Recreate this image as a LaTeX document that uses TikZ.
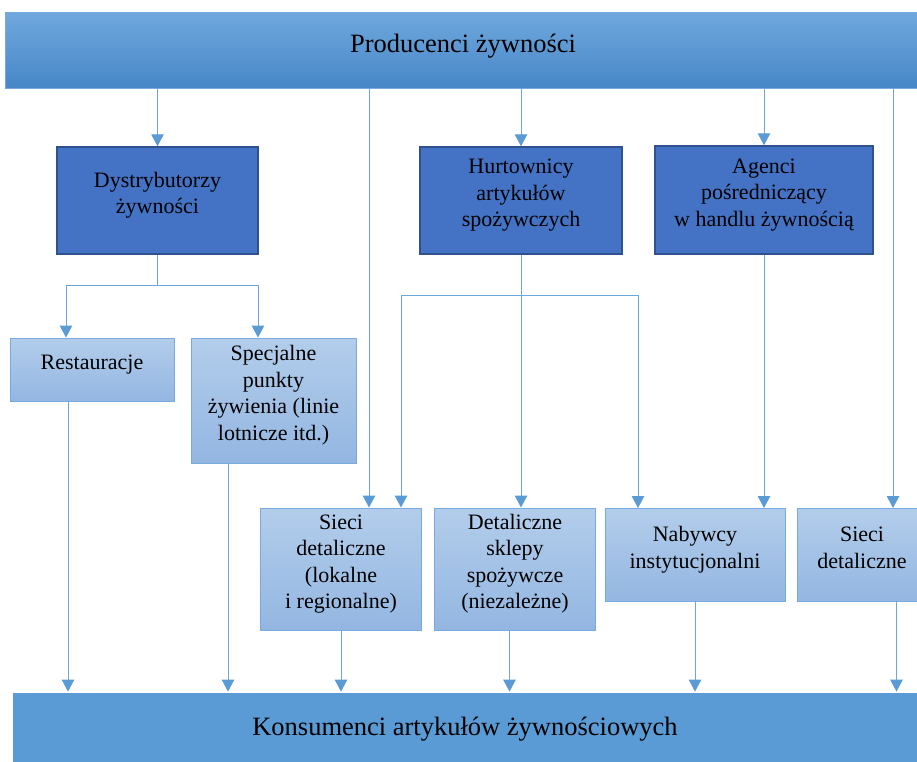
\documentclass[tikz,border=0pt]{standalone}
\usepackage{fontspec}
\setmainfont{Liberation Serif}
\usepackage{xcolor}
\usetikzlibrary{arrows.meta, positioning}

\definecolor{barTop}{HTML}{70A8DE}
\definecolor{barBot}{HTML}{4787C7}
\definecolor{barFlat}{HTML}{5B9BD5}
\definecolor{darkFill}{HTML}{4472C4}
\definecolor{darkEdge}{HTML}{2F528F}
\definecolor{lightTop}{HTML}{B3CDEB}
\definecolor{lightBot}{HTML}{93B6E1}
\definecolor{lightEdge}{HTML}{78AADF}
\definecolor{linkCol}{HTML}{6AA5DC}
\definecolor{tipCol}{HTML}{5B9BD5}

\tikzstyle{bar} = [rectangle, inner sep=0pt, text height=18pt, text depth=14pt, font=\fontsize{26.5}{30}\selectfont]
\tikzstyle{producer} = [bar, top color=barTop, bottom color=barBot, draw=lightEdge, line width=0.8pt]
\tikzstyle{consumer} = [bar, fill=barFlat, draw=white, line width=0.8pt]
\tikzstyle{box} = [rectangle, inner sep=2pt, align=center, text depth=15pt, font=\fontsize{22}{26.5}\selectfont]
\tikzstyle{middleman} = [box, fill=darkFill, draw=darkEdge, line width=1.5pt]
\tikzstyle{outlet} = [box, top color=lightTop, bottom color=lightBot, draw=lightEdge, line width=1pt]
\tikzstyle{link} = [draw=linkCol, line width=1pt]
\tikzstyle{arrow} = [link, -{Triangle[width=12.5pt, length=12pt, color=tipCol]}]

\begin{document}
\begin{tikzpicture}[x=1pt, y=-1pt]
        \useasboundingbox (0,0) rectangle (917,761);

        % Bars
        \node (prod) [producer, minimum width=916pt, minimum height=76pt] at (463,50) {Producenci żywności};
        \node (kons) [consumer, minimum width=906pt, minimum height=82pt] at (465,733) {Konsumenci artykułów żywnościowych};

        % Middlemen
        \node (dystr) [middleman, minimum width=201pt, minimum height=107pt] at (157.5,200.5) {Dystrybutorzy\\żywności};
        \node (hurt) [middleman, minimum width=202pt, minimum height=107pt] at (521,200.5) {Hurtownicy\\artykułów\\spożywczych};
        \node (agenci) [middleman, minimum width=218pt, minimum height=108pt] at (764,200) {Agenci\\pośredniczący\\w handlu żywnością};

        % Outlets - upper row
        \node (rest) [outlet, minimum width=164pt, minimum height=63pt] at (92,369.5) {Restauracje};
        \node (spec) [outlet, minimum width=165pt, minimum height=125pt] at (273.5,400.5) {Specjalne\\punkty\\żywienia (linie\\lotnicze itd.)};

        % Outlets - lower row
        \node (sieciL) [outlet, minimum width=161pt, minimum height=122pt] at (341,569) {Sieci\\detaliczne\\(lokalne\\i regionalne)};
        \node (detal) [outlet, minimum width=161pt, minimum height=122pt, right=12pt of sieciL] {Detaliczne\\sklepy\\spożywcze\\(niezależne)};
        \node (nabyw) [outlet, minimum width=180pt, minimum height=93pt] at (695,555) {Nabywcy\\instytucjonalni};
        \node (sieciR) [outlet, minimum width=130pt, minimum height=93pt, right=11pt of nabyw] {Sieci\\detaliczne};

        % Entry and exit points
        \path (sieciL.north) ++(28,0) coordinate (slTop1) ++(32,0) coordinate (slTop2);
        \path (nabyw.north) ++(-57,0) coordinate (nbTop);
        \path (sieciR.north) ++(31,0) coordinate (srTop);
        \path (rest.north) ++(-26,0) coordinate (restTop);
        \path (spec.north) ++(-15.5,0) coordinate (specTop);
        \path (rest.south) ++(-24,0) coordinate (restBot);
        \path (spec.south) ++(-45.5,0) coordinate (specBot);
        \path (detal.south) ++(-5.5,0) coordinate (detalBot);
        \path (sieciR.south) ++(34.5,0) coordinate (srBot);

        % Arrows - from producers
        \draw [arrow] (prod.south -| dystr.north) -- (dystr.north);
        \draw [arrow] (prod.south -| slTop1) -- (slTop1);
        \draw [arrow] (prod.south -| hurt.north) -- (hurt.north);
        \draw [arrow] (prod.south -| agenci.north) -- (agenci.north);
        \draw [arrow] (prod.south -| srTop) -- (srTop);

        % Arrows - distributors
        \draw [link] (dystr.south) -- ++(0,31) coordinate (dSplit);
        \draw [arrow] (dSplit) -| (restTop);
        \draw [arrow] (dSplit) -| (specTop);

        % Arrows - wholesalers
        \draw [arrow] (hurt.south) -- (hurt.south |- detal.north);
        \path (hurt.south) ++(0,41) coordinate (hSplit);
        \draw [arrow] (hSplit) -| (slTop2);
        \draw [arrow] (hSplit) -| (nbTop);

        % Arrows - agents
        \draw [arrow] (agenci.south) -- (agenci.south |- nabyw.north);

        % Arrows - to consumers
        \draw [arrow] (restBot) -- (restBot |- kons.north);
        \draw [arrow] (specBot) -- (specBot |- kons.north);
        \draw [arrow] (sieciL.south) -- (sieciL.south |- kons.north);
        \draw [arrow] (detalBot) -- (detalBot |- kons.north);
        \draw [arrow] (nabyw.south) -- (nabyw.south |- kons.north);
        \draw [arrow] (srBot) -- (srBot |- kons.north);

\end{tikzpicture}
\end{document}
